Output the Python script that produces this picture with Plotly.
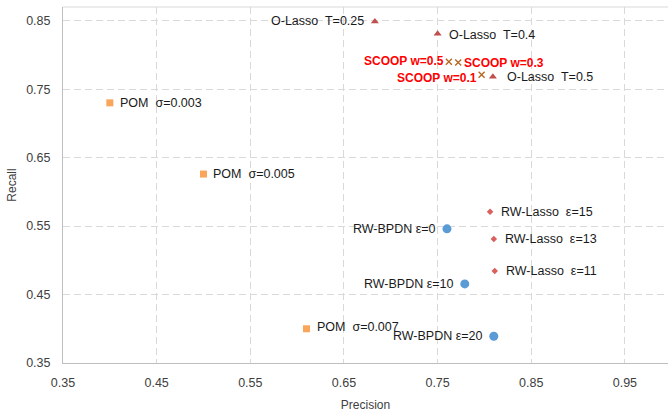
import plotly.graph_objects as go

# ---- data ----
olasso_x = [0.683, 0.750, 0.809]
olasso_y = [0.849, 0.831, 0.768]
olasso_lbl = ["O-Lasso  T=0.25", "O-Lasso  T=0.4", "O-Lasso  T=0.5"]

scoop_x = [0.762, 0.772, 0.797]
scoop_y = [0.790, 0.789, 0.771]
scoop_lbl = ["SCOOP w=0.5", "SCOOP w=0.3", "SCOOP w=0.1"]

pom_x = [0.400, 0.500, 0.610]
pom_y = [0.730, 0.626, 0.400]
pom_lbl = ["POM  σ=0.003", "POM  σ=0.005", "POM  σ=0.007"]

bpdn_x = [0.760, 0.779, 0.810]
bpdn_y = [0.546, 0.4655, 0.389]
bpdn_lbl = ["RW-BPDN ε=0", "RW-BPDN ε=10", "RW-BPDN ε=20"]

rwl_x = [0.806, 0.810, 0.811]
rwl_y = [0.571, 0.531, 0.4845]
rwl_lbl = ["RW-Lasso  ε=15", "RW-Lasso  ε=13", "RW-Lasso  ε=11"]

tick_vals = [0.35, 0.45, 0.55, 0.65, 0.75, 0.85, 0.95]

# ---- label placement (style) ----
olasso_pos = [("right", -9, 0), ("left", 9, -1), ("left", 12, 0)]
scoop_pos = [("right", -3, 1), ("left", 4, -1), ("right", -3, -3)]
pom_pos = [("left", 8, 0), ("left", 8, 0), ("left", 8, 2)]
bpdn_pos = [("right", -9, 0), ("right", -9, 0), ("right", -9, 0)]
rwl_pos = [("left", 9, 0), ("left", 9, 0), ("left", 9, 0)]

FONT = "Liberation Sans"
fig = go.Figure()

series = [
    (olasso_x, olasso_y, dict(symbol="triangle-up", size=7, color="#C0504D"), olasso_lbl, olasso_pos, dict(color="#1a1a1a", size=12.5, family=FONT)),
    (scoop_x, scoop_y, dict(symbol="x-thin", size=6, color="#B5651D", line=dict(width=1.3, color="#B5651D")), scoop_lbl, scoop_pos, dict(color="#FF0000", size=12, family=FONT, weight="bold")),
    (pom_x, pom_y, dict(symbol="square", size=7, color="#F9A55A"), pom_lbl, pom_pos, dict(color="#1a1a1a", size=12.5, family=FONT)),
    (bpdn_x, bpdn_y, dict(symbol="circle", size=9, color="#5B9BD5"), bpdn_lbl, bpdn_pos, dict(color="#1a1a1a", size=12.5, family=FONT)),
    (rwl_x, rwl_y, dict(symbol="diamond", size=5, color="#D9605C"), rwl_lbl, rwl_pos, dict(color="#1a1a1a", size=12.5, family=FONT)),
]

annotations = []
for xs, ys, mk, lbls, pos, fnt in series:
    fig.add_trace(go.Scatter(x=xs, y=ys, mode="markers", marker=mk, showlegend=False, hoverinfo="skip"))
    for x, y, t, (anc, xs_, ys_) in zip(xs, ys, lbls, pos):
        annotations.append(dict(x=x, y=y, text=t, showarrow=False, xanchor=anc, yanchor="middle",
                                xshift=xs_, yshift=ys_, font=fnt))

axis_common = dict(
    showgrid=True, gridcolor="#D9D9D9", griddash="7px,4px", gridwidth=1,
    zeroline=False, showline=True, linecolor="#BFBFBF", linewidth=1,
    ticks="", tickfont=dict(family=FONT, size=12.5, color="#404040"),
    tickvals=tick_vals, ticktext=[f"{v:.2f}" for v in tick_vals],
)

fig.update_xaxes(range=[0.35, 0.996], ticklabelstandoff=8,
                 title=dict(text="Precision", font=dict(family=FONT, size=12, color="#404040"), standoff=12), **axis_common)
fig.update_yaxes(range=[0.35, 0.87], ticklabelstandoff=9,
                 title=dict(text="Recall", font=dict(family=FONT, size=12, color="#404040"), standoff=6), **axis_common)

fig.add_shape(type="line", xref="paper", yref="paper", x0=0, x1=1, y0=1, y1=1,
              line=dict(color="#D9D9D9", width=1))

fig.update_layout(
    width=668, height=412,
    margin=dict(l=63, r=0, t=7, b=49),
    plot_bgcolor="white", paper_bgcolor="white",
    annotations=annotations,
)

fig.write_html("out.html")
